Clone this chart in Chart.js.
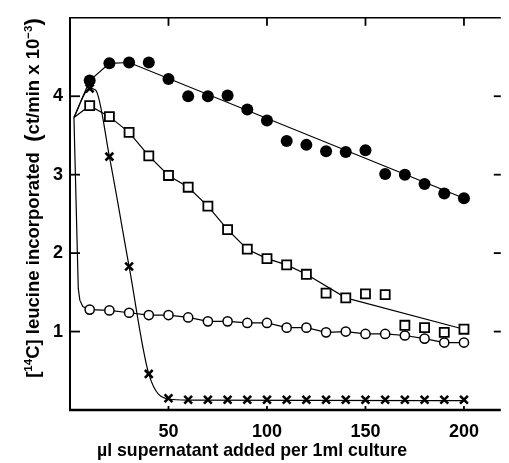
<!DOCTYPE html>
<html>
<head>
<meta charset="utf-8">
<script src="https://cdn.jsdelivr.net/npm/chart.js@4/dist/chart.umd.min.js"></script>
<style>
  html, body { margin: 0; padding: 0; background: #fff; overflow: hidden; }
  #wrap { width: 509px; height: 463px; position: relative; }
</style>
</head>
<body>
<div id="wrap"><canvas id="chart"></canvas></div>
<script>
// µl supernatant added (x) for all four series
const doses = [10, 20, 30, 40, 50, 60, 70, 80, 90, 100, 110, 120, 130, 140, 150, 160, 170, 180, 190, 200];
// [14C] leucine incorporated, ct/min x 10^-3
const filledCircles = [4.20, 4.42, 4.43, 4.43, 4.22, 4.00, 4.00, 4.01, 3.83, 3.69, 3.43, 3.38, 3.30, 3.29, 3.31, 3.01, 3.00, 2.88, 2.76, 2.70];
const openSquares = [3.88, 3.74, 3.54, 3.24, 2.99, 2.84, 2.60, 2.30, 2.05, 1.93, 1.85, 1.73, 1.49, 1.43, 1.48, 1.47, 1.08, 1.05, 0.99, 1.03];
const openCircles = [1.28, 1.27, 1.24, 1.21, 1.21, 1.18, 1.13, 1.13, 1.11, 1.11, 1.05, 1.05, 0.99, 1.00, 0.97, 0.97, 0.95, 0.91, 0.86, 0.86];
const crosses = [4.10, 3.23, 1.83, 0.46, 0.15, 0.13, 0.13, 0.13, 0.13, 0.13, 0.13, 0.13, 0.13, 0.13, 0.13, 0.13, 0.13, 0.13, 0.13, 0.13];

// hand drawn curves through the points (all start from the common control value)
const fitFilledX = [2, 10, 20, 30, 200];
const fitFilledY = [3.73, 4.20, 4.42, 4.43, 2.70];
const fitSquaresX = [2, 10, 20, 30, 40, 50, 60, 70, 80, 90, 100, 110, 120, 140, 200];
const fitSquaresY = [3.73, 3.88, 3.74, 3.54, 3.24, 2.99, 2.84, 2.60, 2.30, 2.05, 1.93, 1.85, 1.73, 1.43, 1.03];
const fitCirclesX = [2, 4.2, 5.0, 6.5, 10, 20, 30, 40, 50, 60, 70, 80, 90, 100, 110, 120, 130, 140, 150, 160, 170, 180, 190, 200];
const fitCirclesY = [3.73, 1.55, 1.40, 1.32, 1.28, 1.27, 1.24, 1.21, 1.21, 1.18, 1.13, 1.13, 1.11, 1.11, 1.05, 1.05, 0.99, 1.00, 0.97, 0.97, 0.95, 0.91, 0.86, 0.86];
const fitCrossesX = [2, 10, 13, 20, 30, 40, 50, 60, 200];
const fitCrossesY = [3.73, 4.10, 4.08, 3.23, 1.83, 0.46, 0.14, 0.125, 0.12];

const xTicks = [50, 100, 150, 200];
const yTicks = [1, 2, 3, 4];

const FONT = "'Liberation Sans', Arial, sans-serif";

function pts(xs, ys) {
  return xs.map((x, i) => ({ x: x, y: ys[i] }));
}

function fitLine(xs, ys, mode) {
  return {
    data: pts(xs, ys),
    showLine: true,
    borderColor: '#000',
    borderWidth: 1.2,
    pointRadius: 0,
    tension: 0,
    cubicInterpolationMode: mode || 'default',
    order: 2
  };
}

const framePlugin = {
  id: 'frame',
  afterDraw(chart) {
    const ctx = chart.ctx;
    const a = chart.chartArea;
    const xs = chart.scales.x, ys = chart.scales.y;
    ctx.save();
    ctx.strokeStyle = '#000';
    ctx.lineCap = 'butt';
    // box
    ctx.lineWidth = 2;
    ctx.beginPath(); ctx.moveTo(a.left, a.top); ctx.lineTo(a.left, a.bottom + 1); ctx.stroke();
    ctx.lineWidth = 2.5;
    ctx.beginPath(); ctx.moveTo(a.left - 1, a.bottom); ctx.lineTo(a.right, a.bottom); ctx.stroke();
    ctx.lineWidth = 1.5;
    ctx.beginPath(); ctx.moveTo(a.left - 1, a.top); ctx.lineTo(a.right, a.top); ctx.stroke();
    // inward tick marks
    ctx.lineWidth = 1.8;
    yTicks.forEach(v => {
      const p = ys.getPixelForValue(v);
      ctx.beginPath(); ctx.moveTo(a.left, p); ctx.lineTo(a.left + 10, p); ctx.stroke();
      ctx.beginPath(); ctx.moveTo(a.right - 7, p); ctx.lineTo(a.right, p); ctx.stroke();
    });
    xTicks.forEach(v => {
      const p = xs.getPixelForValue(v);
      ctx.beginPath(); ctx.moveTo(p, a.top); ctx.lineTo(p, a.top + 8); ctx.stroke();
      ctx.beginPath(); ctx.moveTo(p, a.bottom); ctx.lineTo(p, a.bottom - 4); ctx.stroke();
    });

    // x axis title, sized to the reference width (~310px)
    ctx.fillStyle = '#000';
    const xt = '\u00b5l supernatant added per 1ml culture';
    ctx.font = 'bold 16px ' + FONT;
    const xs16 = ctx.measureText(xt).width;
    ctx.font = 'bold ' + (16 * 310 / xs16).toFixed(1) + 'px ' + FONT;
    ctx.textAlign = 'center';
    ctx.textBaseline = 'middle';
    ctx.fillText(xt, 252, 451);

    // y axis title with superscripts, rotated, sized to ~360px length
    const parts = [
      { t: '[', s: 1 },
      { t: '14', s: 0.62, dy: -0.4 },
      { t: 'C] leucine incorporated  ', s: 1 },
      { t: '(', s: 1.2, dy: 0.06 },
      { t: 'ct/min x 10', s: 1 },
      { t: '\u22123', s: 0.62, dy: -0.4 },
      { t: ')', s: 1.2, dy: 0.06 }
    ];
    const measure = base => {
      let tot = 0;
      parts.forEach(p => { ctx.font = 'bold ' + (base * p.s) + 'px ' + FONT; p.w = ctx.measureText(p.t).width; tot += p.w; });
      return tot;
    };
    const base = 16 * 360 / measure(16);
    const total = measure(base);
    ctx.translate(39, 198 + total / 2);
    ctx.rotate(-Math.PI / 2);
    ctx.textAlign = 'left';
    ctx.textBaseline = 'alphabetic';
    let cx = 0;
    parts.forEach(p => {
      ctx.font = 'bold ' + (base * p.s) + 'px ' + FONT;
      ctx.fillText(p.t, cx, (p.dy || 0) * base);
      cx += p.w;
    });
    ctx.restore();
  }
};

new Chart(document.getElementById('chart'), {
  type: 'scatter',
  data: {
    datasets: [
      {
        data: pts(doses, filledCircles),
        pointStyle: 'circle', pointRadius: 6,
        backgroundColor: '#000', borderColor: '#000', borderWidth: 0, order: 1
      },
      {
        data: pts(doses, openSquares),
        pointStyle: 'rect', pointRadius: 6.4,
        backgroundColor: '#fff', borderColor: '#000', borderWidth: 1.8, order: 1
      },
      {
        data: pts(doses, openCircles),
        pointStyle: 'circle', pointRadius: 4.6,
        backgroundColor: '#fff', borderColor: '#000', borderWidth: 1.5, order: 1
      },
      {
        data: pts(doses, crosses),
        pointStyle: 'crossRot', pointRadius: 5.5,
        backgroundColor: '#000', borderColor: '#000', borderWidth: 2.6, order: 1
      },
      fitLine(fitFilledX, fitFilledY),
      fitLine(fitSquaresX, fitSquaresY),
      fitLine(fitCirclesX, fitCirclesY),
      fitLine(fitCrossesX, fitCrossesY, 'monotone')
    ]
  },
  options: {
    responsive: true,
    maintainAspectRatio: false,
    animation: false,
    layout: { padding: { top: 10, right: 0, left: 0, bottom: 0 } },
    plugins: { legend: { display: false }, tooltip: { enabled: false } },
    scales: {
      x: {
        type: 'linear', min: 0, max: 218.7,
        afterBuildTicks: s => { s.ticks = xTicks.map(v => ({ value: v })); },
        afterFit: s => { s.height = 53; },
        grid: { display: false, drawTicks: false },
        border: { display: false },
        ticks: { padding: 11, color: '#000', font: { family: FONT, size: 18, weight: 'bold' } }
      },
      y: {
        type: 'linear', min: 0, max: 5,
        afterBuildTicks: s => { s.ticks = yTicks.map(v => ({ value: v })); },
        afterFit: s => { s.width = 70; },
        grid: { display: false, drawTicks: false },
        border: { display: false },
        ticks: { padding: 7, color: '#000', font: { family: FONT, size: 18, weight: 'bold' } }
      }
    }
  },
  plugins: [framePlugin]
});
</script>
</body>
</html>
